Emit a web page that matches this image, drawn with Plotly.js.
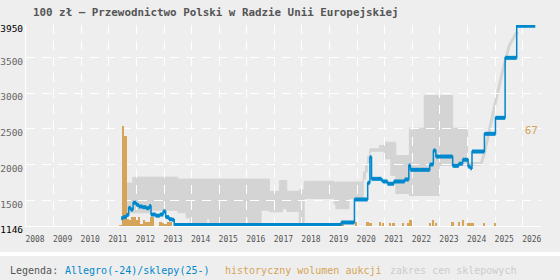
<!DOCTYPE html>
<html><head><meta charset="utf-8">
<script src="https://cdn.plot.ly/plotly-3.0.1.min.js"></script>
<style>html,body{margin:0;padding:0;background:#eeeeee;}#chart{width:560px;height:280px;}</style>
</head><body><div id="chart"></div>
<script>
// Blue line: Allegro(-24)/sklepy(25-) price, value holds from each date to the next
const priceX = [2011.45, 2011.52, 2011.64, 2011.72, 2011.79, 2011.88, 2012.00, 2012.09, 2012.22, 2012.36, 2012.47, 2012.53, 2012.70, 2012.85, 2012.97, 2013.06, 2013.18, 2013.30, 2013.37, 2019.42, 2019.90, 2020.38, 2020.46, 2020.52, 2020.88, 2020.93, 2021.10, 2021.33, 2021.72, 2021.87, 2021.93, 2022.63, 2022.76, 2022.85, 2023.46, 2023.68, 2023.82, 2024.02, 2024.10, 2024.16, 2024.61, 2025.01, 2025.36, 2025.78];
const priceY = [1255, 1270, 1300, 1400, 1375, 1470, 1440, 1418, 1408, 1394, 1425, 1306, 1290, 1306, 1350, 1270, 1240, 1232, 1160, 1195, 1516, 1749, 2106, 1804, 1781, 1767, 1735, 1767, 1795, 1990, 1930, 2004, 2199, 2115, 1985, 2015, 2070, 1976, 1952, 2185, 2432, 2655, 3492, 3939];
const priceEnd = 2026.45;

// Orange bars: historical auction volume
const volX = [2011.42, 2011.51, 2011.60, 2011.69, 2011.77, 2011.85, 2011.93, 2012.02, 2012.10, 2012.18, 2012.27, 2012.35, 2012.43, 2012.52, 2012.60, 2012.88, 2012.97, 2013.06, 2013.16, 2013.26, 2019.47, 2019.95, 2020.37, 2020.48, 2020.83, 2020.93, 2021.18, 2021.32, 2021.66, 2021.86, 2021.94, 2022.63, 2022.75, 2022.86, 2023.45, 2023.69, 2023.83, 2024.02, 2024.10, 2024.18, 2024.60, 2024.99];
const volY = [1, 67, 60, 5, 4, 6, 6, 4, 6, 1.5, 4, 3, 2.5, 6, 6, 2.5, 2, 1.5, 3, 3, 1.5, 2.5, 2.5, 2, 2.5, 2, 2, 2, 2, 2, 4.3, 2, 3.7, 2, 2.5, 2.5, 3.7, 2, 2, 2, 2, 2];
const volMaxLabel = 67;

// Gray band: shop price range (segment i spans bandX[i]..bandX[i+1])
const bandX = [2011.66, 2011.87, 2012.55, 2013.50, 2013.80, 2013.95, 2014.55, 2014.65, 2015.95, 2016.05, 2016.52, 2016.82, 2017.18, 2017.30, 2017.45, 2017.90, 2018.08, 2019.17, 2019.23, 2019.70, 2020.22, 2020.30, 2020.38, 2020.46, 2020.80, 2020.98, 2021.22, 2021.40, 2021.89, 2022.43, 2022.97, 2023.46, 2024.00, 2024.49];
const bandLow = [1330, 1330, 1366, 1330, 1260, 1195, 1250, 1195, 1250, 1195, 1366, 1344, 1344, 1390, 1350, 1195, 1530, 1450, 1386, 1530, 1800, 1900, 2030, 2190, 2190, 2083, 1850, 1600, 1571, 1571, 1990, 1990, 1995];
const bandHigh = [1745, 1827, 1827, 1800, 1800, 1800, 1800, 1800, 1800, 1800, 1800, 1630, 1780, 1780, 1630, 1650, 1770, 1740, 1760, 1760, 1900, 2010, 2120, 2223, 2270, 2315, 2315, 2129, 2510, 2966, 2966, 2510, 2030];
// Narrow shop-price rise at the end
const riseX = [2024.49, 2024.60, 2024.79, 2024.97, 2025.15, 2025.33, 2025.51, 2025.75, 2025.82];
const riseY = [2010, 2153, 2478, 2803, 3106, 3409, 3664, 3827, 3850];

const yTicks = [1146, 1500, 2000, 2500, 3000, 3500, 3950];
const xTicks = [2008, 2009, 2010, 2011, 2012, 2013, 2014, 2015, 2016, 2017, 2018, 2019, 2020, 2021, 2022, 2023, 2024, 2025, 2026];

const BLUE = '#0088cc', ORANGE = '#d6a458', GRAY = '#d4d4d4', BG = '#eeeeee';
const MONO = 'DejaVu Sans Mono, monospace';
const L = 26, R = 19, T = 25, B = 54, W = 560 - L - R, H = 280 - T - B;
const px = x => (x - L) / W;
const py = y => (280 - B - y) / H;

// thick horizontal segments of the price line
const segX = [], segY = [];
priceX.forEach((x, i) => {
  const nx = i + 1 < priceX.length ? priceX[i + 1] : priceEnd;
  segX.push(x, nx, null); segY.push(priceY[i], priceY[i], null);
});

// band path
let path = 'M ' + bandX[0] + ',' + bandHigh[0];
for (let i = 0; i < bandHigh.length; i++) path += ' L ' + bandX[i] + ',' + bandHigh[i] + ' L ' + bandX[i + 1] + ',' + bandHigh[i];
for (let i = bandLow.length - 1; i >= 0; i--) path += ' L ' + bandX[i + 1] + ',' + bandLow[i] + ' L ' + bandX[i] + ',' + bandLow[i];
path += ' Z';
let rise = 'M ' + riseX.map((x, i) => x + ',' + riseY[i]).join(' L ');

const traces = [
  {type: 'bar', x: volX, y: volY, width: 0.09, marker: {color: ORANGE, line: {width: 0}}, xaxis: 'x', yaxis: 'y', hoverinfo: 'skip'},
  {type: 'scatter', mode: 'lines', x: priceX.concat([priceEnd]), y: priceY.concat([priceY[priceY.length - 1]]),
   line: {color: BLUE, width: 1.5, shape: 'hv'}, xaxis: 'x', yaxis: 'y2', hoverinfo: 'skip'},
  {type: 'scatter', mode: 'lines', x: segX, y: segY, line: {color: BLUE, width: 4}, xaxis: 'x', yaxis: 'y2', hoverinfo: 'skip', connectgaps: false}
];

const gridStyle = {showgrid: true, gridcolor: '#ffffff', gridwidth: 1, griddash: '9px,7px'};

const layout = {
  width: 560, height: 280,
  paper_bgcolor: BG, plot_bgcolor: BG,
  margin: {l: L, r: R, t: T, b: B, pad: 0},
  showlegend: false,
  bargap: 0,
  title: {text: '<b>100 zł – Przewodnictwo Polski w Radzie Unii Europejskiej</b>',
    font: {family: MONO, size: 10.85, color: '#555555'},
    x: 33 / 560, xref: 'container', xanchor: 'left', y: 1 - 12 / 280, yref: 'container', yanchor: 'middle'},
  xaxis: Object.assign({range: [2008, 2026.66], tickmode: 'array', tickvals: xTicks, ticktext: xTicks.map(String),
    ticks: '', showline: true, linecolor: '#ffffff', linewidth: 1, zeroline: false, layer: 'below traces',
    tickfont: {family: MONO, size: 8, color: '#555555'}, ticklabelshift: 9, ticklabelstandoff: 5, fixedrange: true}, gridStyle),
  yaxis: {range: [0, 134], side: 'right', tickmode: 'array', tickvals: [volMaxLabel], ticktext: [String(volMaxLabel)],
    ticklabelposition: 'inside', ticks: '', showgrid: false, zeroline: false, showline: false,
    tickfont: {family: MONO, size: 11, color: ORANGE}, ticklabelshift: 5, fixedrange: true},
  yaxis2: Object.assign({overlaying: 'y', side: 'left', range: [1146, 3950], tickmode: 'array', tickvals: yTicks,
    ticktext: yTicks.map((v, i) => (i === 0 || i === yTicks.length - 1) ? '<span style="color:#000000">' + v + '</span>' : String(v)),
    ticks: '', showline: true, linecolor: '#ffffff', linewidth: 1, zeroline: false, layer: 'below traces',
    tickfont: {family: MONO, size: 9.5, color: '#666666'}, ticklabelshift: 4, fixedrange: true}, gridStyle),
  shapes: [
    {type: 'path', xref: 'x', yref: 'y2', path: path, fillcolor: GRAY, line: {color: GRAY, width: 1}, layer: 'below'},
    {type: 'path', xref: 'x', yref: 'y2', path: rise, line: {color: GRAY, width: 3}, layer: 'below'},
    {type: 'rect', xref: 'paper', yref: 'paper', x0: px(0), x1: px(560), y0: py(256), y1: py(252), fillcolor: '#ffffff', line: {width: 0}, layer: 'above'}
  ],
  annotations: [
    {text: 'Legenda:', color: '#555555', x0: 9},
    {text: 'Allegro(-24)/sklepy(25-)', color: BLUE, x0: 64},
    {text: 'historyczny wolumen aukcji', color: ORANGE, x0: 224},
    {text: 'zakres cen sklepowych', color: '#cccccc', x0: 389}
  ].map(a => ({text: a.text, xref: 'paper', yref: 'paper', x: px(a.x0), y: py(270.7), xanchor: 'left', yanchor: 'middle',
    showarrow: false, borderpad: 0, font: {family: MONO, size: 10, color: a.color}}))
};

Plotly.newPlot('chart', traces, layout, {staticPlot: true, displayModeBar: false});
</script></body></html>
